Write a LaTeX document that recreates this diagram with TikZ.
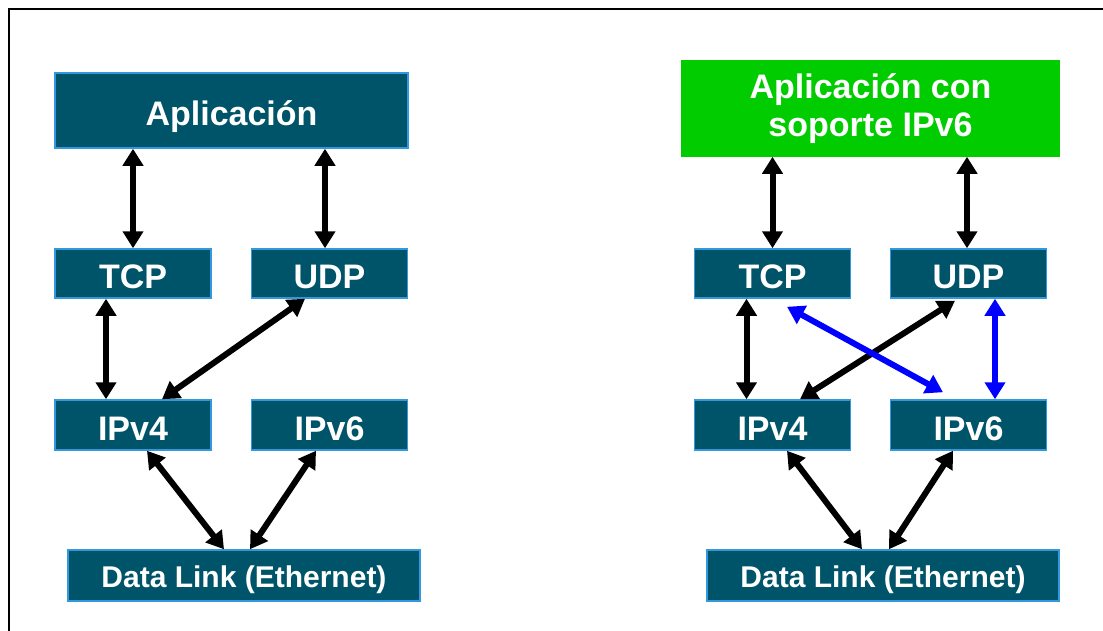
\documentclass[tikz,border=0pt]{standalone}
\usepackage{fontspec}
\setmainfont{Liberation Sans}
\usepackage{tikz}
\usetikzlibrary{arrows.meta}
\usetikzlibrary{positioning}
\definecolor{mteal}{rgb}{0, 0.33, 0.41}
\definecolor{medge}{rgb}{0.2, 0.6, 0.87}
\definecolor{mgreen}{rgb}{0, 0.8, 0}
\tikzset{layer/.style = {draw = medge, fill = mteal, line width = 1.5pt, text = white, font = \bfseries\fontsize{34}{38}\selectfont, minimum width = 156pt, minimum height = 49pt, inner sep = 0pt, text height = 30pt, text depth = 0pt}}
\tikzset{link/.style = {line width = 6pt, {Triangle[length=17pt,width=20pt]}-{Triangle[length=17pt,width=20pt]}}}
\tikzset{blink/.style = {link, blue}}

\begin{document}
\begin{tikzpicture}[x = 1pt, y = -1pt]
      \useasboundingbox (0, 0) rectangle (1103, 630);
      \draw [line width = 2pt] (9, 640) -- (9, 9) -- (1110, 9);

      \node [layer, minimum width = 353pt, minimum height = 75pt] (appL) at (231.5, 110.5) {Aplicación};
      \node [layer] (tcpL) at (133, 273.5) {TCP};
      \node [layer] (udpL) at (329.5, 273.5) {UDP};
      \node [layer, minimum height = 50pt] (ipfourL) at (133, 425) {IPv4};
      \node [layer, minimum height = 50pt] (ipsixL) at (329.5, 425) {IPv6};
      \node [layer, minimum width = 352pt, minimum height = 51pt, font = \bfseries\fontsize{30}{34}\selectfont, text height = 23pt] (dlL) at (244, 575.5) {Data Link (Ethernet)};

      \node [layer, draw = mgreen, fill = mgreen, minimum width = 377pt, minimum height = 95pt, align = center, text height = , text depth = ] (appR) at (870.5, 108.5) {Aplicación con\\soporte IPv6};
      \node [layer] (tcpR) at (772.5, 273.5) {TCP};
      \node [layer] (udpR) at (968.5, 273.5) {UDP};
      \node [layer, minimum height = 50pt] (ipfourR) at (772.5, 425) {IPv4};
      \node [layer, minimum height = 50pt] (ipsixR) at (968.5, 425) {IPv6};
      \node [layer, minimum width = 352pt, minimum height = 51pt, font = \bfseries\fontsize{30}{34}\selectfont, text height = 23pt] (dlR) at (883, 575.5) {Data Link (Ethernet)};

      \draw [link] (tcpL.north |- appL.south) -- (tcpL.north);
      \draw [link] ([xshift = -4.5pt]udpL.north |- appL.south) -- ([xshift = -4.5pt]udpL.north);
      \draw [link] ([xshift = -27pt]tcpL.south) -- ([xshift = -27pt]ipfourL.north);
      \draw [link] ([xshift = -24.5pt]udpL.south) -- ([xshift = 29pt]ipfourL.north);
      \draw [link] ([xshift = 14pt]ipfourL.south) -- ([xshift = -20pt]dlL.north);
      \draw [link] ([xshift = -13.5pt]ipsixL.south) -- ([xshift = 6pt]dlL.north);

      \draw [link] (tcpR.north |- appR.south) -- (tcpR.north);
      \draw [link] ([xshift = -1.5pt]udpR.north |- appR.south) -- ([xshift = -1.5pt]udpR.north);
      \draw [link] ([xshift = -26pt]tcpR.south) -- ([xshift = -26pt]ipfourR.north);
      \draw [link] ([xshift = -13.5pt, yshift = -2pt]udpR.south) -- ([xshift = 27.5pt]ipfourR.north);
      \draw [blink] ([xshift = 14.5pt, yshift = -8pt]tcpR.south) -- ([xshift = -25.5pt, yshift = 7pt]ipsixR.north);
      \draw [blink] ([xshift = 26.5pt]udpR.south) -- ([xshift = 26.5pt]ipsixR.north);
      \draw [link] ([xshift = 14.5pt]ipfourR.south) -- ([xshift = -21pt]dlR.north);
      \draw [link] ([xshift = -15.5pt]ipsixR.south) -- ([xshift = 6pt]dlR.north);
    \end{tikzpicture}
\end{document}
